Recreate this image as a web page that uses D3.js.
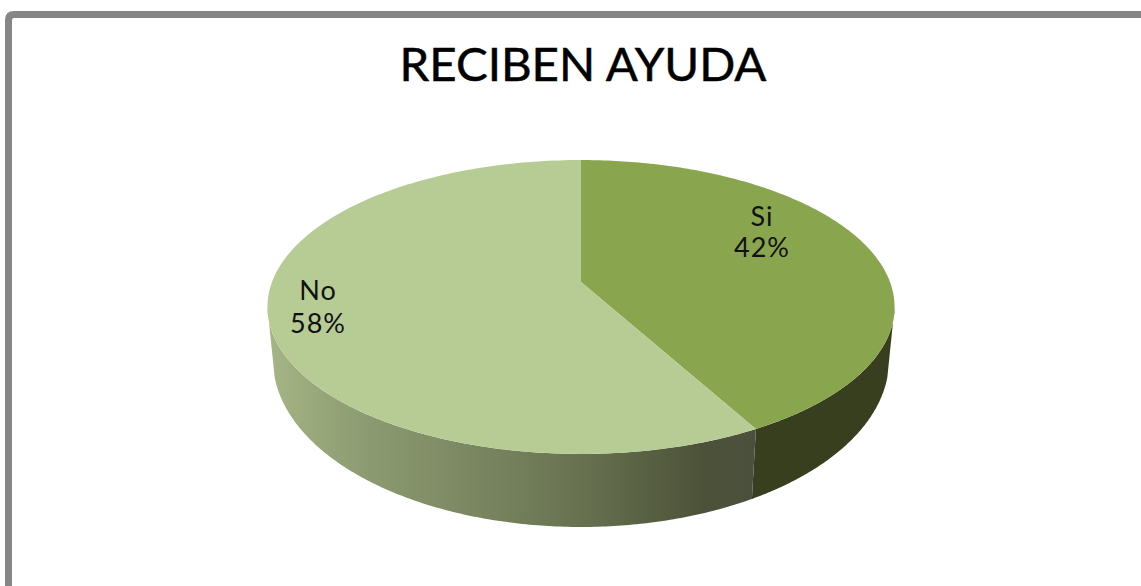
<!DOCTYPE html>
<html><head><meta charset="utf-8">
<script src="https://cdn.jsdelivr.net/npm/d3@7/dist/d3.min.js"></script>
<style>html,body{margin:0;padding:0;background:#fff;overflow:hidden}svg{display:block}</style>
</head><body><svg id="c" width="1141" height="586"></svg>
<script>
const categories = ["Si", "No"];
const seriesValues = [42, 58];
const chartTitle = "RECIBEN AYUDA";
const topColors = ["#89a54e", "#b7cc94"];

const svg = d3.select("#c");
const defs = svg.append("defs");
const grad = defs.append("linearGradient").attr("id","noSide")
  .attr("gradientUnits","userSpaceOnUse").attr("x1",272).attr("x2",757).attr("y1",0).attr("y2",0);
[[0,"#a5b484"],[0.2,"#8b9a70"],[0.41,"#7b8761"],[0.62,"#697352"],[0.89,"#4c5238"],[1,"#4b503e"]]
  .forEach(s=>grad.append("stop").attr("offset",s[0]).attr("stop-color",s[1]));

svg.append("path").attr("d","M8.5,586V20Q8.5,14.5,14,14.5H1141").attr("fill","none")
  .attr("stroke","#868686").attr("stroke-width",7);

svg.append("text").attr("x",583).attr("y",81).attr("text-anchor","middle")
  .attr("font-family","Lato").attr("font-size",47).attr("fill","#000")
  .attr("stroke","#000").attr("stroke-width",0.5)
  .attr("textLength",367).attr("lengthAdjust","spacingAndGlyphs").text(chartTitle);

const k = 0.17, cx = 581;
const topRim = a => {
  const u = Math.sin(a), v = -Math.cos(a), w = 1 - k*v;
  return [cx + 309*u/w, 282 + 142.7*v/w];
};
// lower rim: follows the top rim's x (slightly narrowed) on a plain half ellipse
const lowRim = a => {
  const x = (topRim(a)[0] - cx) * 0.977;
  const t = Math.max(0, 1 - (x/308)*(x/308));
  return [cx + x, 360 + 167*Math.sqrt(t)];
};
const arcs = d3.pie().sort(null)(seriesValues);
const steps = (a0,a1,n=180) => d3.range(n+1).map(i=>a0+(a1-a0)*i/n);
const line = d3.line();

const widest = Math.acos(-k);
const boundary = arcs[0].endAngle;
const bands = [
  {a0:widest, a1:boundary, fill:"#373f1e"},
  {a0:boundary, a1:2*Math.PI-widest, fill:"url(#noSide)"}
];
bands.forEach(b=>{
  const pts = steps(b.a0,b.a1).map(topRim).concat(steps(b.a1,b.a0).map(lowRim));
  svg.append("path").attr("d",line(pts)+"Z").attr("fill",b.fill);
});
arcs.forEach((d,i)=>{
  const pts = [[cx,282]].concat(steps(d.startAngle,d.endAngle).map(topRim));
  svg.append("path").attr("d",line(pts)+"Z").attr("fill",topColors[i]);
});

const labels = [{x:762,y:[226,257]},{x:318,y:[300,333]}];
arcs.forEach((d,i)=>{
  const t = svg.append("text").attr("text-anchor","middle").attr("font-family","Lato")
    .attr("font-size",27).attr("letter-spacing",1).attr("fill","#111");
  t.append("tspan").attr("x",labels[i].x).attr("y",labels[i].y[0]).text(categories[i]);
  t.append("tspan").attr("x",labels[i].x).attr("y",labels[i].y[1]).text(seriesValues[i]+"%");
});
</script></body></html>
